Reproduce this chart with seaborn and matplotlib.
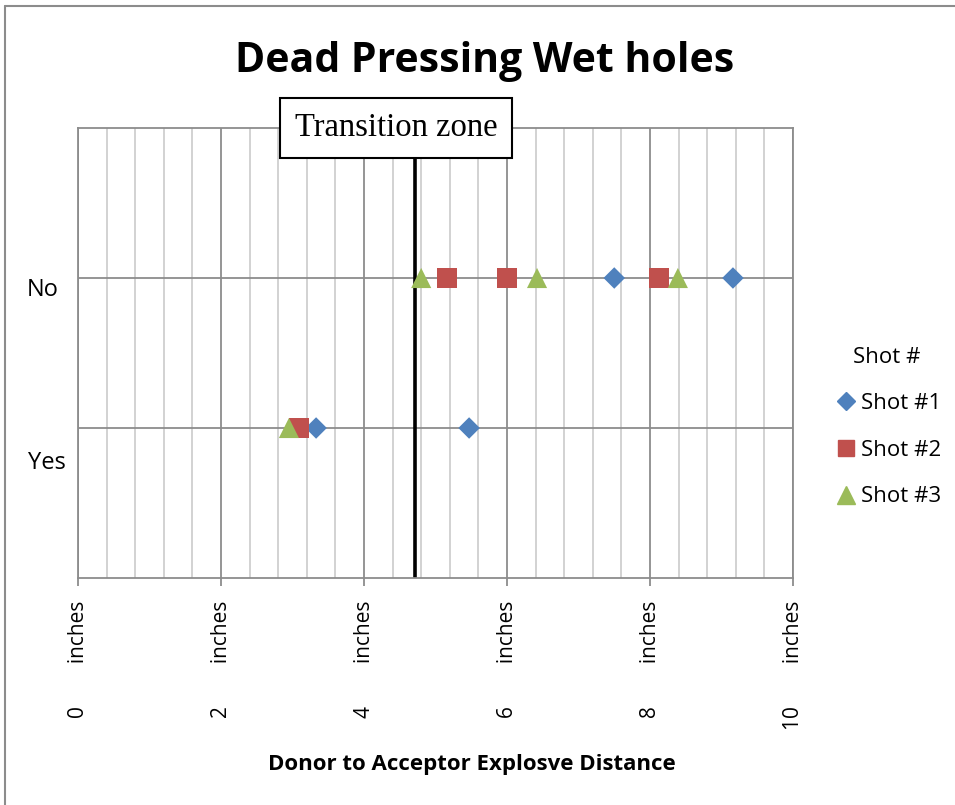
import numpy as np
import pandas as pd
import matplotlib.pyplot as plt
import matplotlib.lines as mlines
import matplotlib.transforms as mtransforms
from matplotlib.ticker import MultipleLocator
import seaborn as sns

# shot data: distance (inches) and outcome (2 = No, 1 = Yes)
shot1_dist = [7.5, 9.16, 3.33, 5.47]
shot1_dead = [2, 2, 1, 1]
shot2_dist = [5.16, 6.0, 8.13, 3.09]
shot2_dead = [2, 2, 2, 1]
shot3_dist = [4.8, 6.42, 8.39, 2.95]
shot3_dead = [2, 2, 2, 1]

series_names = ["Shot #1", "Shot #2", "Shot #3"]
series_colors = ["#4F81BD", "#C0504D", "#9BBB59"]
series_markers = ["D", "s", "^"]
series_sizes = [120, 200, 210]

transition_x = 4.71
x_ticks = [0, 2, 4, 6, 8, 10]
y_labels = ["Yes", "No"]

sns.set_style("white")
plt.rcParams['font.family'] = ['Open Sans', 'DejaVu Sans']
plt.rcParams['text.color'] = 'black'
plt.rcParams['xtick.labelcolor'] = 'black'
plt.rcParams['ytick.labelcolor'] = 'black'

fig = plt.figure(figsize=(9.55, 8.05), dpi=100)
ax = fig.add_axes([78 / 955, 1 - 578 / 805, 715 / 955, 450 / 805])

data = pd.DataFrame({
    "dist": shot1_dist + shot2_dist + shot3_dist,
    "dead": shot1_dead + shot2_dead + shot3_dead,
    "shot": ["Shot #1"] * len(shot1_dist) + ["Shot #2"] * len(shot2_dist) + ["Shot #3"] * len(shot3_dist),
})

# grid first
ax.set_xlim(0, 10)
ax.set_ylim(0, 3)
ax.xaxis.set_major_locator(MultipleLocator(2))
ax.xaxis.set_minor_locator(MultipleLocator(0.4))
ax.set_yticks([1, 2])
ax.grid(which="major", axis="both", color="#8c8c8c", lw=1.3, zorder=0)
ax.grid(which="minor", axis="x", color="#cfcfcf", lw=1.3, zorder=0)
ax.set_axisbelow(True)

ax.axvline(transition_x, color="black", lw=2.6, zorder=2)

for name, col, mk, sz in zip(series_names, series_colors, series_markers, series_sizes):
    sub = data[data["shot"] == name]
    sns.scatterplot(x=sub["dist"], y=sub["dead"], ax=ax, marker=mk, s=sz,
                    color=col, edgecolor="none", linewidth=0, zorder=3, legend=False)

ax.set_xlabel("")
ax.set_ylabel("")

# tick labels like excel: "0   inches" rotated
ax.set_xticks(x_ticks)
ax.set_xticklabels([f"{v}        inches" for v in x_ticks], rotation=90, fontsize=15, color="black")
ax.tick_params(axis="x", which="major", direction="out", length=6, width=1.3,
               color="#8c8c8c", pad=10, bottom=True)
ax.tick_params(axis="x", which="minor", length=0)
ax.tick_params(axis="y", length=0, labelleft=False)
for s in ax.spines.values():
    s.set_color("#8c8c8c")
    s.set_linewidth(1.3)

# category labels for y
ax.text(-0.027, 1.92, y_labels[1], transform=mtransforms.blended_transform_factory(ax.transAxes, ax.transData),
        ha="right", va="center", fontsize=17)
ax.text(-0.017, 0.77, y_labels[0], transform=mtransforms.blended_transform_factory(ax.transAxes, ax.transData),
        ha="right", va="center", fontsize=17)

# transition zone box
ax.text(4.45, 1.0, "Transition zone", transform=mtransforms.blended_transform_factory(ax.transData, ax.transAxes),
        ha="center", va="center", fontsize=23.5, family=["Liberation Serif", "DejaVu Serif"],
        bbox=dict(boxstyle="square,pad=0.45", fc="white", ec="black", lw=1.5), zorder=5, clip_on=False)

fig.text(485 / 955, 1 - 62 / 805, "Dead Pressing Wet holes", ha="center", va="center",
         fontsize=29.5, fontweight="bold")
fig.text(472 / 955, 1 - 764 / 805, "Donor to Acceptor Explosve Distance", ha="center", va="center",
         fontsize=16, fontweight="bold")

handles = [mlines.Line2D([], [], ls="none", marker=m, color=c, markersize=np.sqrt(s) * 0.85, label=n)
           for n, c, m, s in zip(series_names, series_colors, series_markers, series_sizes)]
leg = fig.legend(handles=handles, title="Shot #", loc="center", bbox_to_anchor=(887 / 955, 1 - 427 / 805),
                 frameon=False, fontsize=16, title_fontsize=16, labelspacing=1.15,
                 handletextpad=0.1, handlelength=1.2)

# chart area border (left and top only visible)
fig.add_artist(mlines.Line2D([5 / 955, 5 / 955], [0, 1 - 6 / 805], color="#8c8c8c", lw=1.5,
                             transform=fig.transFigure))
fig.add_artist(mlines.Line2D([5 / 955, 1], [1 - 6 / 805, 1 - 6 / 805], color="#8c8c8c", lw=1.5,
                             transform=fig.transFigure))

fig.savefig("out.png", dpi=100)
